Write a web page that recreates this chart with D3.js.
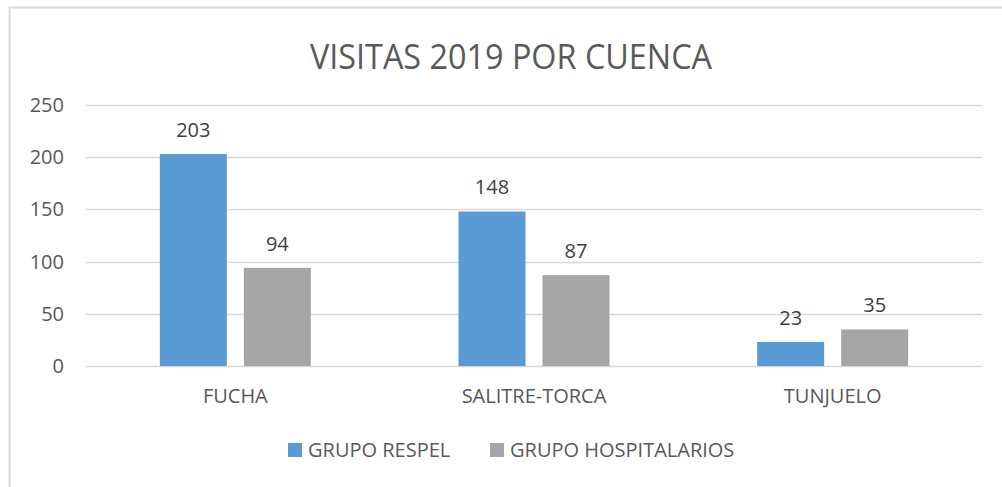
<!DOCTYPE html>
<html>
<head>
<meta charset="utf-8">
<script src="https://cdn.jsdelivr.net/npm/d3@7"></script>
<style>
  body { margin:0; background:#fff; }
  text { font-family:"Open Sans", "Noto Sans", sans-serif; }
</style>
</head>
<body>
<div id="chart"></div>
<script>
//data
var cuencas = ["FUCHA", "SALITRE-TORCA", "TUNJUELO"];
var series = ["GRUPO RESPEL", "GRUPO HOSPITALARIOS"];
var respel = [203, 148, 23];
var hospitalarios = [94, 87, 35];
var yTicks = [0, 50, 100, 150, 200, 250];
var colors = ["#5B9BD5", "#A5A5A5"];

var W = 1002, H = 487;
var svg = d3.select("#chart").append("svg")
  .attr("width", W)
  .attr("height", H);

//chart border (right and bottom fall outside the picture)
svg.append("rect")
  .attr("x", 9.5).attr("y", 7.5)
  .attr("width", 1010).attr("height", 500)
  .style("fill", "none")
  .style("stroke", "#D9D9D9")
  .style("stroke-width", 2);

svg.append("text")
  .attr("x", 511).attr("y", 69)
  .attr("text-anchor", "middle")
  .attr("textLength", 402)
  .attr("lengthAdjust", "spacingAndGlyphs")
  .style("font-size", "34px")
  .style("fill", "#595959")
  .text("VISITAS 2019 POR CUENCA");

var y = d3.scaleLinear().domain([0, 250]).range([366, 105]);
var x0 = d3.scaleBand().domain(cuencas).range([86, 982]);
var x1 = d3.scaleBand().domain(series).range([0, x0.bandwidth()])
  .paddingInner(0.2024).paddingOuter(0.879);

//gridlines
svg.append("g").selectAll("line")
  .data(yTicks)
  .enter().append("line")
  .attr("x1", 86).attr("x2", 982)
  .attr("y1", function(d){ return Math.round(y(d)) + 0.5; })
  .attr("y2", function(d){ return Math.round(y(d)) + 0.5; })
  .style("stroke", "#D9D9D9")
  .style("stroke-width", 1.5);

svg.append("g").selectAll("text")
  .data(yTicks)
  .enter().append("text")
  .attr("x", 64)
  .attr("y", function(d){ return y(d) + 7; })
  .attr("text-anchor", "end")
  .style("font-size", "20px")
  .style("fill", "#595959")
  .text(function(d){ return d; });

//bars
var rows = cuencas.map(function(c, i){
  return [{cat:c, s:series[0], v:respel[i], k:0}, {cat:c, s:series[1], v:hospitalarios[i], k:1}];
});

var groups = svg.append("g").selectAll("g")
  .data(rows)
  .enter().append("g")
  .attr("transform", function(d){ return "translate(" + x0(d[0].cat) + ",0)"; });

groups.selectAll("rect")
  .data(function(d){ return d; })
  .enter().append("rect")
  .attr("x", function(d){ return x1(d.s); })
  .attr("y", function(d){ return y(d.v); })
  .attr("width", x1.bandwidth())
  .attr("height", function(d){ return y(0) - y(d.v); })
  .style("fill", function(d){ return colors[d.k]; });

groups.selectAll("text")
  .data(function(d){ return d; })
  .enter().append("text")
  .attr("x", function(d){ return x1(d.s) + x1.bandwidth()/2; })
  .attr("y", function(d){ return y(d.v) - 17; })
  .attr("text-anchor", "middle")
  .style("font-size", "20px")
  .style("fill", "#404040")
  .text(function(d){ return d.v; });

//category labels
svg.append("g").selectAll("text")
  .data(cuencas)
  .enter().append("text")
  .attr("x", function(d){ return x0(d) + x0.bandwidth()/2; })
  .attr("y", 403)
  .attr("text-anchor", "middle")
  .style("font-size", "20px")
  .style("fill", "#595959")
  .text(function(d){ return d; });

//legend
var legX = [288, 490];
var leg = svg.append("g").selectAll("g")
  .data(series)
  .enter().append("g")
  .attr("transform", function(d, i){ return "translate(" + legX[i] + ",443)"; });
leg.append("rect")
  .attr("width", 14).attr("height", 14)
  .style("fill", function(d, i){ return colors[i]; });
leg.append("text")
  .attr("x", 20).attr("y", 14)
  .style("font-size", "20px")
  .style("fill", "#595959")
  .text(function(d){ return d; });
</script>
</body>
</html>
